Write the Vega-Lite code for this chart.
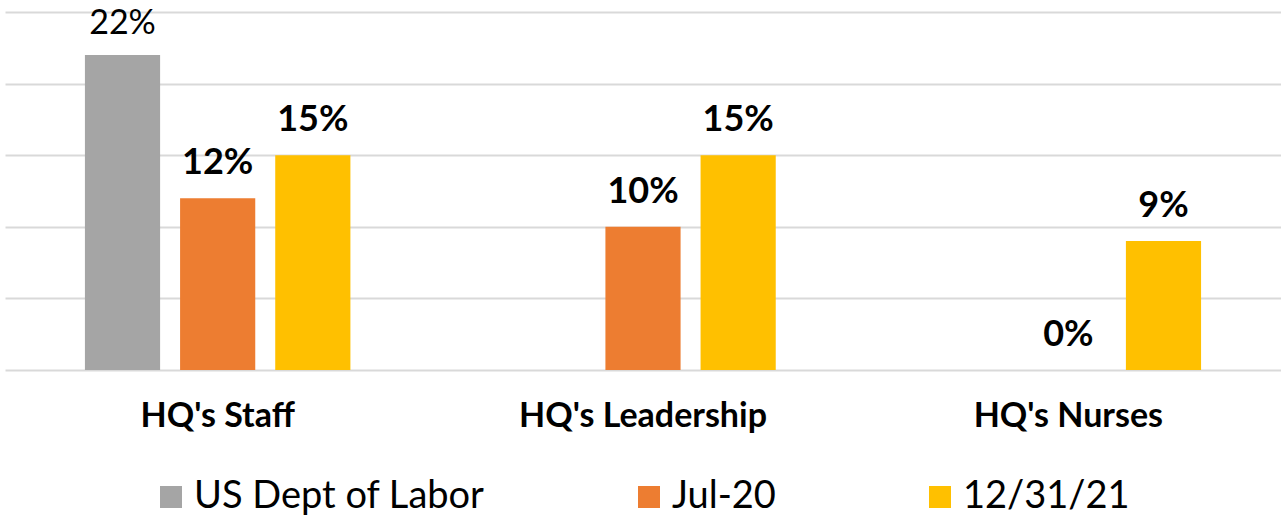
{
  "$schema": "https://vega.github.io/schema/vega-lite/v6.json",
  "width": 1276,
  "height": 358,
  "autosize": {"type": "none"},
  "padding": {"left": 5, "top": 12, "right": 0, "bottom": 146},
  "background": "white",
  "config": {"view": {"stroke": null}, "font": "Lato"},
  "data": {
    "values": [
      {"group": "HQ's Staff", "series": "US Dept of Labor", "value": 22, "label": "22%"},
      {"group": "HQ's Staff", "series": "Jul-20", "value": 12, "label": "12%"},
      {"group": "HQ's Staff", "series": "12/31/21", "value": 15, "label": "15%"},
      {"group": "HQ's Leadership", "series": "Jul-20", "value": 10, "label": "10%"},
      {"group": "HQ's Leadership", "series": "12/31/21", "value": 15, "label": "15%"},
      {"group": "HQ's Nurses", "series": "Jul-20", "value": 0, "label": "0%"},
      {"group": "HQ's Nurses", "series": "12/31/21", "value": 9, "label": "9%"}
    ]
  },
  "encoding": {
    "x": {
      "field": "group", "type": "nominal", "sort": null,
      "scale": {"paddingInner": 0, "paddingOuter": 0},
      "axis": {"title": null, "domain": false, "ticks": false, "labelAngle": 0,
        "labelFont": "Lato", "labelFontSize": 34, "labelFontWeight": "bold", "labelColor": "#000000",
        "labelPadding": 29, "labelLimit": 400}
    },
    "xOffset": {
      "field": "series", "type": "nominal",
      "sort": ["US Dept of Labor", "Jul-20", "12/31/21"],
      "scale": {"domain": ["US Dept of Labor", "Jul-20", "12/31/21"], "paddingInner": 0.21, "paddingOuter": 0.84}
    },
    "y": {
      "field": "value", "type": "quantitative",
      "scale": {"domain": [0, 25], "nice": false},
      "axis": {"title": null, "labels": false, "ticks": false, "domain": false,
        "values": [0, 5, 10, 15, 20, 25], "grid": true, "gridColor": "#d9d9d9", "gridWidth": 2}
    }
  },
  "layer": [
    {
      "mark": {"type": "bar"},
      "encoding": {
        "color": {
          "field": "series", "type": "nominal",
          "scale": {"domain": ["US Dept of Labor", "Jul-20", "12/31/21"], "range": ["#A5A5A5", "#ED7D31", "#FFC000"]},
          "legend": {
            "title": null, "orient": "none", "legendX": 147, "legendY": 466,
            "direction": "horizontal", "columns": 3, "gridAlign": "each",
            "columnPadding": 145, "symbolType": "square", "symbolSize": 484,
            "symbolStrokeWidth": 0, "labelFont": "Lato", "labelFontSize": 38,
            "labelColor": "#000000", "labelOffset": 4, "labelLimit": 500
          }
        }
      }
    },
    {
      "transform": [{"filter": "datum.series === 'US Dept of Labor'"}],
      "mark": {"type": "text", "dy": -21, "baseline": "alphabetic", "fontSize": 34, "font": "Lato", "color": "#000000"},
      "encoding": {"text": {"field": "label"}}
    },
    {
      "transform": [{"filter": "datum.series !== 'US Dept of Labor'"}],
      "mark": {"type": "text", "dy": -24, "baseline": "alphabetic", "fontSize": 36, "font": "Lato", "fontWeight": "bold", "color": "#000000"},
      "encoding": {"text": {"field": "label"}}
    }
  ]
}
